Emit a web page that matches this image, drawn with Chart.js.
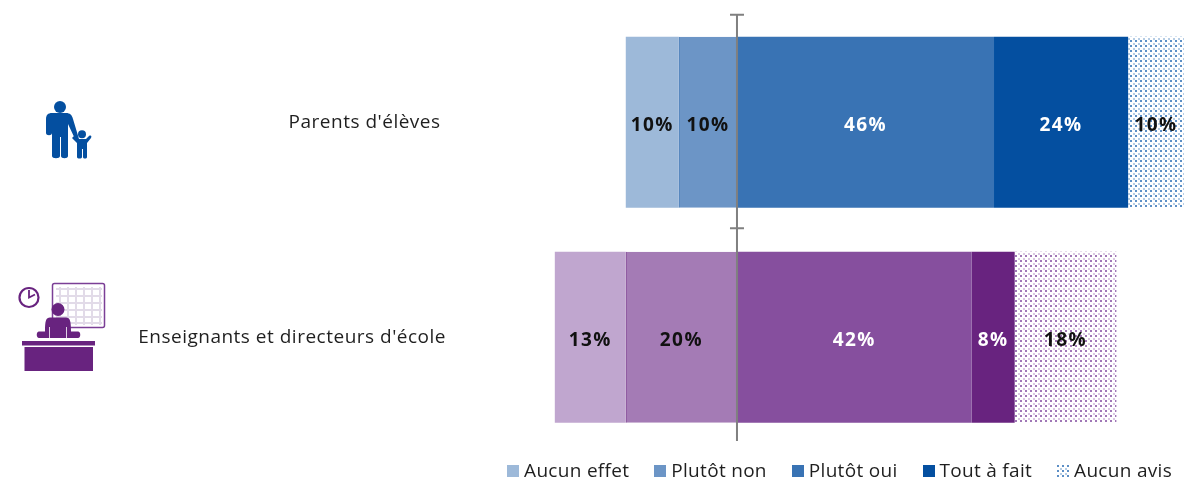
<!DOCTYPE html>
<html lang="fr">
<head>
<meta charset="utf-8">
<title>Parents d'élèves, enseignants et directeurs d'école</title>
<script src="https://cdn.jsdelivr.net/npm/chart.js@4"></script>
<style>
    html, body { margin: 0; padding: 0; background: #fff; overflow: hidden; }
    #wrap { position: relative; width: 1184px; height: 479px; }
    #legend {
        position: absolute; right: 12px; top: 459px; display: flex; gap: 25px;
        font: 19px "Open Sans", sans-serif; color: #1f1f1f; line-height: 23px; letter-spacing: 0.3px;
    }
    #legend span.item { display: flex; align-items: center; gap: 5px; }
    #legend i { display: block; width: 12px; height: 12px; }
    svg.icon { position: absolute; left: 0; top: 0; pointer-events: none; }
</style>
</head>
<body>
<div id="wrap">
    <canvas id="chart" width="1184" height="479"></canvas>
    <svg class="icon" width="130" height="479" viewBox="0 0 130 479">
        <g fill="#044fa0">
            <circle cx="60" cy="107" r="6"/>
            <path d="M52 113h14c4 0 6 2 7 6l6 20-3 2-8-17v32c0 3-7 3-7 0v-19h-1v19c0 3-8 3-8 0v-33v-1v11c0 3-6 3-6 0v-14c0-4 2-6 6-6z"/>
            <circle cx="82" cy="134.3" r="4"/>
            <path d="M74 136l4 3h8l3-3c2-1 3 0 2 2l-4 5v14c0 2-4 2-4 0v-8h-1v8c0 2-5 2-5 0v-14l-5-5z"/>
        </g>
        <g>
            <rect x="52.5" y="283.5" width="52" height="44" rx="2" fill="#fff" stroke="#7b3f96" stroke-width="1.5"/>
            <path d="M56 289h46M56 296h46M56 303h46M56 310h46M56 317h46M56 323h46M60 287v38M68 287v38M76 287v38M84 287v38M92 287v38M100 287v38" stroke="#e2dbe8" stroke-width="2" fill="none"/>
            <circle cx="29" cy="297.5" r="9.5" fill="#fff" stroke="#68237f" stroke-width="2.2"/>
            <path d="M29 290v7.5l6-3" stroke="#68237f" stroke-width="1.8" fill="none"/>
            <g fill="#68237f">
                <circle cx="58" cy="309.5" r="6.5"/>
                <path d="M50 317.5h16c4 0 5 3 5 14h7c3 0 3 6.500 0 6.500H39c-3 0-3-6.500 0-6.500h6c0-11 1-14 5-14z"/>
                <rect x="22" y="341" width="73" height="4.500"/>
                <rect x="24.500" y="347" width="68.500" height="24"/>
            </g>
            <path d="M49.500 327v11M66.500 327v11" stroke="#fff" stroke-width="0.8"/>
        </g>
    </svg>
    <div id="legend"></div>
</div>
<script>
const categories = ["Parents d'élèves", "Enseignants et directeurs d'école"];
const seriesNames = ['Aucun effet', 'Plutôt non', 'Plutôt oui', 'Tout à fait', 'Aucun avis'];

// negative side stacks left of the axis
const aucunEffet = [-9.5, -12.7];
const plutotNon = [-10.4, -19.9];
const plutotOui = [46, 42];
const toutAFait = [24, 7.7];
const aucunAvis = [10, 18.2];

const aucunEffetColors = ['#9db9d9', '#c0a6cf'];
const plutotNonColors = ['#6c95c6', '#a47bb5'];
const plutotOuiColors = ['#3973b4', '#864f9e'];
const toutAFaitColors = ['#044fa0', '#68237f'];
const edgeColors = ['#3973b4', '#68237f'];

const aucunEffetText = ['#111111', '#111111'];
const plutotNonText = ['#111111', '#111111'];
const plutotOuiText = ['#ffffff', '#ffffff'];
const toutAFaitText = ['#ffffff', '#ffffff'];
const aucunAvisText = ['#111111', '#111111'];

const dotPattern = (dark, light) => {
    const tile = document.createElement('canvas');
    tile.width = 5;
    tile.height = 5;
    const c = tile.getContext('2d');
    c.fillStyle = '#fff';
    c.fillRect(0, 0, 5, 5);
    c.fillStyle = dark;
    c.fillRect(0, 0, 2, 2);
    c.fillStyle = light;
    c.fillRect(3, 3, 2, 2);
    return tile;
};

const ctx = document.getElementById('chart').getContext('2d');
const blueTile = dotPattern('#5c8fc6', '#b6cde5');
const purpleTile = dotPattern('#a077b6', '#dac7e3');
const aucunAvisColors = [ctx.createPattern(blueTile, 'repeat'), ctx.createPattern(purpleTile, 'repeat')];

const makeDataset = (label, data, colors, text, order, extra) => ({
    label, data, order, text,
    backgroundColor: colors,
    borderWidth: 0,
    categoryPercentage: 1,
    barPercentage: 0.795,
    ...extra
});

const barLabels = {
    id: 'barLabels',
    beforeDraw(chart) {
        chart.ctx.letterSpacing = '0.5px';
    },
    afterDatasetsDraw(chart) {
        const c = chart.ctx;
        const x0 = chart.scales.x.getPixelForValue(0);
        const y = chart.scales.y;
        const step = y.getPixelForValue(1) - y.getPixelForValue(0);
        const top = y.getPixelForValue(0) - step / 2;
        const boundary = y.getPixelForValue(0) + step / 2;
        c.save();
        // axis drawn over the bars, like the reference
        c.strokeStyle = '#808080';
        c.lineWidth = 2;
        c.beginPath();
        c.moveTo(x0, top);
        c.lineTo(x0, 441);
        c.moveTo(x0 - 7, top);
        c.lineTo(x0 + 7, top);
        c.moveTo(x0 - 7, boundary - 1.5);
        c.lineTo(x0 + 7, boundary - 1.5);
        c.stroke();

        c.letterSpacing = '1.4px';
        c.font = 'bold 19px "Open Sans", sans-serif';
        c.textAlign = 'center';
        c.textBaseline = 'middle';
        chart.data.datasets.forEach((ds, i) => {
            chart.getDatasetMeta(i).data.forEach((bar, j) => {
                c.fillStyle = ds.text[j];
                c.fillText(Math.round(Math.abs(ds.data[j])) + '%', bar.getCenterPoint().x, bar.y + 3);
            });
        });
        c.restore();
    }
};

const chart = new Chart(ctx, {
    type: 'bar',
    data: {
        labels: categories,
        datasets: [
            makeDataset(seriesNames[0], aucunEffet, aucunEffetColors, aucunEffetText, 1),
            makeDataset(seriesNames[1], plutotNon, plutotNonColors, plutotNonText, 0, {
                borderColor: edgeColors,
                borderWidth: { left: 1, right: 0, top: 0, bottom: 0 },
                borderSkipped: false
            }),
            makeDataset(seriesNames[2], plutotOui, plutotOuiColors, plutotOuiText, 2),
            makeDataset(seriesNames[3], toutAFait, toutAFaitColors, toutAFaitText, 3),
            makeDataset(seriesNames[4], aucunAvis, aucunAvisColors, aucunAvisText, 4)
        ]
    },
    options: {
        indexAxis: 'y',
        responsive: false,
        animation: false,
        layout: { padding: { top: 14.75, bottom: 34.25, left: 0, right: 0 } },
        plugins: { legend: { display: false }, tooltip: { enabled: false } },
        scales: {
            x: { stacked: true, display: false, min: -51, max: 80 },
            y: {
                stacked: true,
                afterFit: (scale) => { scale.width = 452; },
                border: { display: false },
                grid: { display: false },
                ticks: {
                    color: '#1f1f1f',
                    padding: -2,
                    // first label ends a little short of the second one
                    callback(value, i) { return i === 0 ? categories[i] + ' ' : categories[i]; },
                    font: { family: '"Open Sans", sans-serif', size: 19 }
                }
            }
        }
    },
    plugins: [barLabels]
});

// html legend, placed by hand under the bars
const legendEl = document.getElementById('legend');
const swatches = [aucunEffetColors[0], plutotNonColors[0], plutotOuiColors[0], toutAFaitColors[0], null];
seriesNames.forEach((name, i) => {
    const item = document.createElement('span');
    item.className = 'item';
    const box = document.createElement('i');
    if (swatches[i]) box.style.background = swatches[i];
    else box.style.background = `url(${blueTile.toDataURL()})`;
    item.appendChild(box);
    item.appendChild(document.createTextNode(name));
    legendEl.appendChild(item);
});
</script>
</body>
</html>
